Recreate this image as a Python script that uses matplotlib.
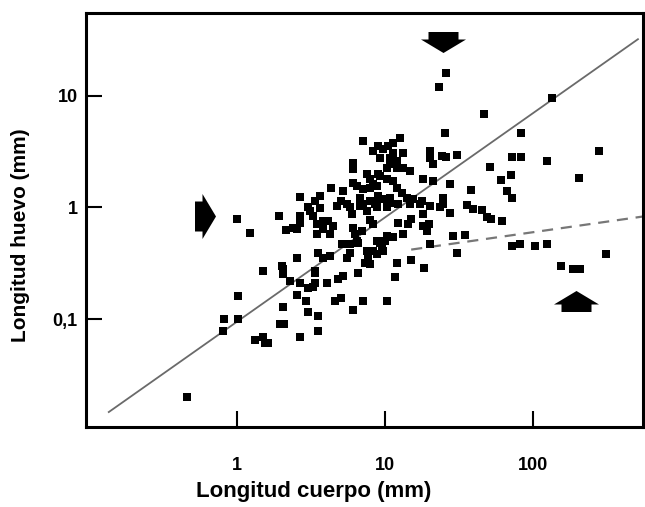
import matplotlib
matplotlib.use('Agg')
import matplotlib.pyplot as plt
from matplotlib.path import Path

# body length vs egg length (mm)
body_mm = [25.8, 23.2, 134, 46.7, 25.4, 83, 279, 124, 72, 83, 51, 205, 71, 61, 38, 67, 72, 27.5,
           20.1, 21.1, 25.8, 30.6, 24.7, 24.7, 27.5, 35.8, 39.3, 45.2, 48.9, 52, 62, 28.8, 34.7,
           30.6, 72, 82, 103, 124, 311, 155, 186, 208,
           6.0, 18.4, 15.0, 12.1, 11.7, 6.6, 7.1, 10.3, 6.1, 20.1, 19.8, 19.2, 14.3, 15.0, 12.2,
           13.2, 11.3, 10.3, 9.25, 8.3, 8.8, 7.7, 7.3, 9.7, 5.1, 5.8, 5.2, 5.0, 6.3, 6.1, 6.5,
           8.3, 7.9, 7.1, 10.3, 10.8, 12.2, 14.8, 17.2, 20.1, 23.5, 18.1, 18.1, 8.8, 10.0, 9.5,
           3.1, 2.67, 2.39, 3.47, 3.8, 4.45, 3.47, 4.25, 3.8, 5.5, 6.8, 7.6, 8.6, 7.0, 5.8, 6.6,
           3.53, 3.8, 4.25, 2.54, 5.5, 7.9, 7.6, 3.37, 2.67, 3.37, 4.05, 4.8, 2.28,
           1.02, 0.82, 1.02, 0.80, 1.32, 1.5, 1.55, 1.62, 2.05, 1.95, 2.08, 2.67, 3.26, 2.54,
           2.93, 3.02, 3.53, 3.53, 4.6, 0.46, 1.5, 2.05, 2.05, 1.0, 1.22, 1.92, 2.14, 2.54,
           8.3, 9.0, 6.1, 6.1, 7.6, 7.9, 9.0, 6.1, 6.5, 7.1, 7.9, 8.8, 6.8, 7.9, 9.0, 5.0, 4.7,
           3.64, 3.37, 3.0, 5.8, 12.6, 11.3, 10.5, 9.7, 11.3, 13.2, 10.8, 9.25, 12.1, 10.8, 10.3,
           12.1, 13.2, 14.8, 20.1, 24.3, 9.25, 10.3, 11.3, 8.3, 12.1, 13.0, 14.1, 15.5, 17.8,
           10.8, 9.7, 18.1, 21.1, 8.8, 4.3, 2.67, 7.1,
           5.2, 2.67, 3.26, 3.64, 4.1, 3.37, 3.0, 2.0]
egg_mm = [16.0, 12.0, 9.5, 6.9, 4.6, 4.6, 3.2, 2.6, 2.84, 2.84, 2.3, 1.84, 1.96, 1.77, 1.44, 1.41,
          1.22, 1.63, 3.2, 2.45, 2.84, 2.95, 1.22, 1.08, 0.90, 1.06, 0.97, 0.95, 0.83, 0.79, 0.75,
          0.56, 0.57, 0.39, 0.455, 0.47, 0.455, 0.47, 0.38, 0.30, 0.28, 0.28,
          0.88, 0.29, 0.34, 0.32, 0.24, 0.26, 0.147, 0.147, 0.122, 0.47, 0.71, 0.62, 0.71, 0.79,
          0.73, 0.58, 0.54, 0.56, 0.48, 0.41, 0.38, 0.36, 0.32, 0.41, 0.47, 0.39, 0.245, 0.156,
          0.58, 0.66, 0.50, 0.71, 0.78, 1.08, 1.0, 1.10, 1.08, 1.08, 1.08, 1.03, 1.0, 0.88, 0.69,
          0.50, 0.50, 0.44,
          0.93, 0.84, 0.66, 0.71, 0.645, 0.69, 0.58, 0.58, 0.76, 1.08, 1.03, 0.93, 1.08, 0.62,
          0.47, 0.48, 0.39, 0.355, 0.37, 0.35, 0.35, 0.31, 0.41, 0.26, 0.21, 0.21, 0.21, 0.23, 0.22,
          0.16, 0.1, 0.1, 0.079, 0.065, 0.069, 0.061, 0.061, 0.13, 0.09, 0.09, 0.069, 0.196, 0.166,
          0.147, 0.117, 0.108, 0.078, 0.147, 0.020, 0.27, 0.28, 0.255, 0.79, 0.59, 0.84, 0.63, 0.645,
          3.2, 3.55, 2.5, 2.2, 2.0, 1.8, 2.0, 1.66, 1.56, 1.47, 1.5, 1.56, 1.22, 1.15, 1.27, 1.15,
          1.03, 1.27, 1.15, 1.0, 1.0, 4.2, 3.8, 3.55, 3.34, 3.08, 3.08, 2.78, 2.78, 2.61, 2.45,
          2.26, 2.26, 2.26, 2.13, 2.78, 2.9, 1.92, 1.8, 1.73, 1.63, 1.5, 1.35, 1.22, 1.2, 1.15,
          1.22, 1.2, 1.8, 1.73, 1.0, 1.5, 1.25, 3.9,
          1.4, 0.72, 0.84, 0.98, 0.76, 0.27, 0.19, 0.30]

# regression lines
fit_x = [0.136, 510]
fit_y = [0.0148, 32]
flat_x = [15, 550]
flat_y = [0.42, 0.83]

x_ticks = [1, 10, 100]
x_tick_labels = ['1', '10', '100']
y_ticks = [0.1, 1, 10]
y_tick_labels = ['0,1', '1', '10']

# block arrows pointing at the outliers
arrow_x = [24.7, 0.61, 195]
arrow_y = [30, 0.84, 0.145]
arrow_dir = ['down', 'right', 'up']


def arrow_marker(direction):
    verts = [(-15, 10.5), (15, 10.5), (15, 3), (22.5, 3), (0, -10.5),
             (-22.5, 3), (-15, 3), (-15, 10.5)]
    if direction == 'up':
        verts = [(x, -y) for x, y in verts]
    elif direction == 'right':
        verts = [(-y, x) for x, y in verts]
    return Path(verts, closed=True)


plt.rcParams['font.family'] = ['Liberation Sans', 'DejaVu Sans']

fig = plt.figure(figsize=(6.45, 5.07), dpi=100)
ax = fig.add_axes([0.1333, 0.158, 0.864, 0.816])
ax.set_xscale('log')
ax.set_yscale('log')
ax.set_xlim(0.0954, 554)
ax.set_ylim(0.0109, 54.7)

ax.plot(fit_x, fit_y, color='#6a6a6a', lw=1.3, zorder=1)
ax.plot(flat_x, flat_y, color='#777777', lw=1.6, dashes=(5, 3.5), zorder=1)
ax.scatter(body_mm, egg_mm, marker='s', s=32, color='black', linewidths=0, zorder=2)

for x, y, d in zip(arrow_x, arrow_y, arrow_dir):
    ax.plot([x], [y], marker=arrow_marker(d), markersize=32.4, color='black',
            markeredgewidth=0, linestyle='none', zorder=3)

ax.set_xticks(x_ticks)
ax.set_xticklabels(x_tick_labels)
ax.set_yticks(y_ticks)
ax.set_yticklabels(y_tick_labels)
ax.minorticks_off()
ax.tick_params(axis='both', direction='in', length=11.5, width=1.5, labelsize=13)
ax.tick_params(axis='x', pad=22)
ax.tick_params(axis='y', pad=6)
for lab in ax.get_xticklabels() + ax.get_yticklabels():
    lab.set_fontweight('bold')

for sp in ax.spines.values():
    sp.set_linewidth(2.2)

ax.set_xlabel('Longitud cuerpo (mm)', fontsize=16, fontweight='bold')
ax.xaxis.set_label_coords(0.408, -0.13)
ax.set_ylabel('Longitud huevo (mm)', fontsize=15, fontweight='bold')
ax.yaxis.set_label_coords(-0.1005, 0.464)

fig.savefig('out.png', dpi=100)
